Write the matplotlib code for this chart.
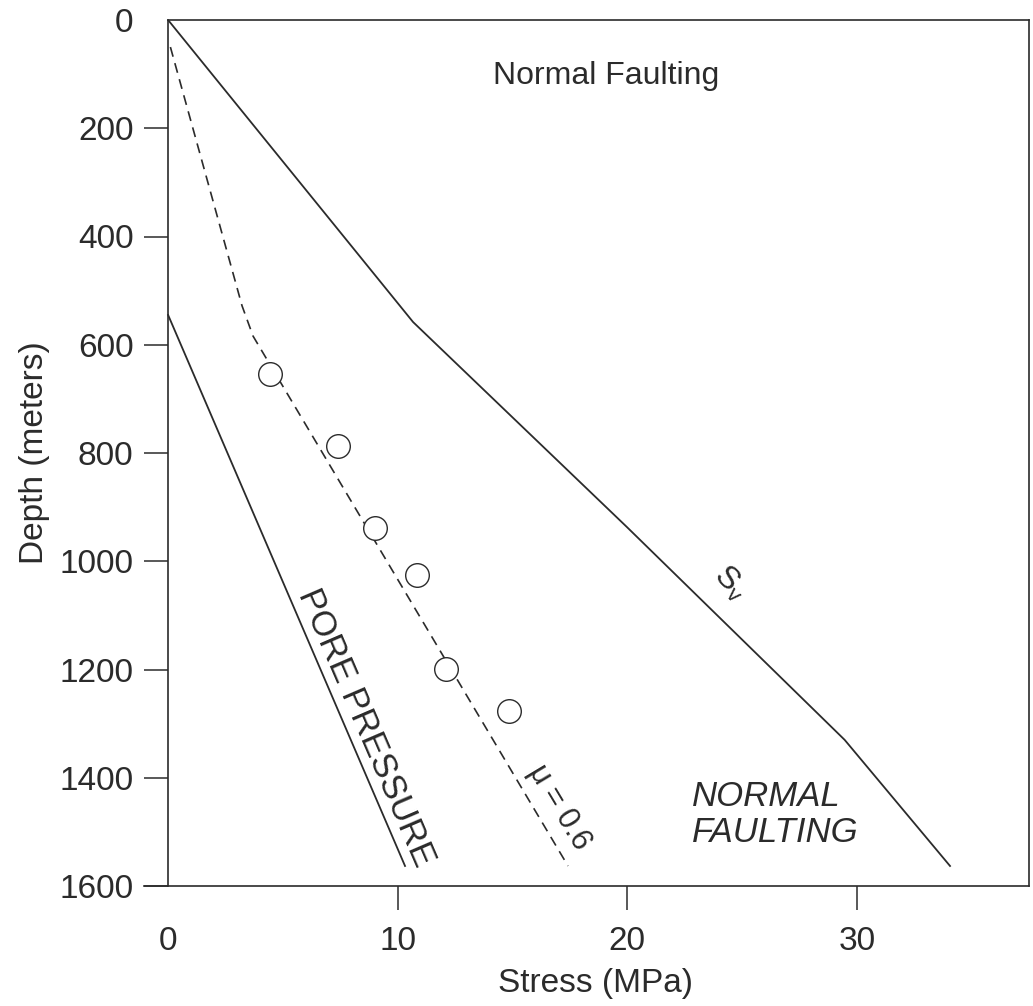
import numpy as np
import matplotlib
matplotlib.use("Agg")
import matplotlib.pyplot as plt
from matplotlib import font_manager as fm

# --- data ---
sv_stress = [0.0, 10.67, 19.99, 29.47, 34.06]
sv_depth = [0, 558, 937, 1330, 1563]

pp_stress = [0.0, 10.32]
pp_depth = [545, 1563]

mu_stress = [0.1, 3.22, 3.70, 17.42]
mu_depth = [50, 528, 584, 1563]

obs_stress = [4.44, 7.40, 9.02, 10.84, 12.11, 14.85]
obs_depth = [654, 787, 939, 1025, 1199, 1277]

xticks = [0, 10, 20, 30]
yticks = [0, 200, 400, 600, 800, 1000, 1200, 1400, 1600]

# narrow font for the axes if there is one
try:
    fm.findfont('Liberation Sans Narrow', fallback_to_default=False)
    narrow = 'Liberation Sans Narrow'
    tsize = 27
except Exception:
    narrow = 'Liberation Sans'
    tsize = 24
plain = 'Liberation Sans'

ink = '#2b2b2b'

fig = plt.figure(figsize=(10.33, 10.06), dpi=100)
ax = fig.add_axes([144/1033, 120/1006, 885/1033, 866/1006])

ax.plot(sv_stress, sv_depth, color=ink, lw=1.3)
ax.plot(pp_stress, pp_depth, color=ink, lw=1.3)
ax.plot(mu_stress, mu_depth, color=ink, lw=1.2, ls=(0, (6, 4)))
ax.plot(obs_stress, obs_depth, ls='none', marker='o', ms=17,
        mfc='white', mec=ink, mew=1.0)

ax.set_xlim(-1.05, 37.5)
ax.set_ylim(1600, 0)

ax.spines['left'].set_position(('data', 0))
ax.spines['top'].set_bounds(0, 37.5)
for s in ax.spines.values():
    s.set_color(ink)
    s.set_linewidth(1.2)

ax.set_xticks(xticks)
ax.set_yticks(yticks)
ax.tick_params(direction='out', length=17, width=1.1, color=ink,
               labelsize=tsize, labelcolor=ink)
ax.tick_params(axis='x', pad=12)
ax.tick_params(axis='y', pad=8)
ax.xaxis.get_major_ticks()[0].tick1line.set_visible(False)
ax.yaxis.get_major_ticks()[0].tick1line.set_visible(False)
for lab in ax.get_xticklabels() + ax.get_yticklabels():
    lab.set_family(narrow)

ax.set_xlabel('Stress (MPa)', fontsize=tsize, family=narrow, color=ink)
ax.set_ylabel('Depth (meters)', fontsize=tsize, family=narrow, color=ink)
ax.xaxis.set_label_coords(0.51, -0.095)
ax.yaxis.set_label_coords(-0.106, 0.5)

ax.text(19.08, 104, 'Normal Faulting', fontsize=23, family=plain, color=ink,
        ha='center', va='center')
ax.text(24.5, 1040, r'S$_\mathregular{v}$', fontsize=23, family=plain,
        color=ink, ha='center', va='center', rotation=-45)
ax.text(8.62, 1308, 'PORE PRESSURE', fontsize=25, family=plain, color=ink,
        ha='center', va='center', rotation=-66.7, rotation_mode='anchor')
ax.text(17.0, 1455, r'$\mathregular{\mu}$ = 0.6', fontsize=22, family=plain,
        color=ink, ha='center', va='center', rotation=-59,
        rotation_mode='anchor')
ax.text(22.82, 1468, 'NORMAL\nFAULTING', fontsize=25, family=plain,
        style='italic', color=ink, ha='left', va='center', linespacing=1.12)

fig.savefig('out.png', dpi=100)
